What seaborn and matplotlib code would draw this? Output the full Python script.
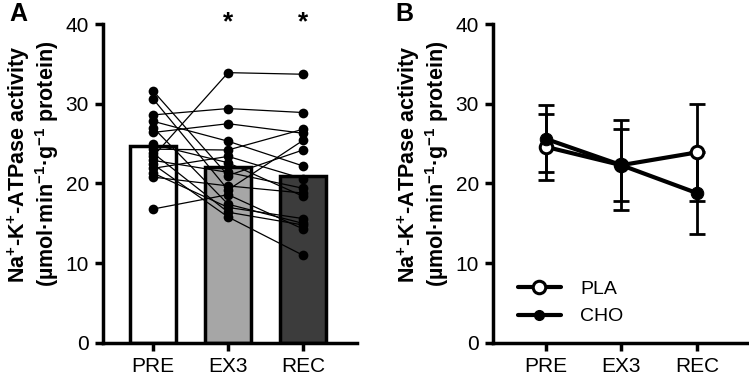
import numpy as np
import pandas as pd
import matplotlib
matplotlib.use("Agg")
import matplotlib.pyplot as plt
import seaborn as sns
from matplotlib.lines import Line2D

sns.set_style("ticks")
plt.rcParams['font.family'] = ['Liberation Sans', 'DejaVu Sans']
plt.rcParams['mathtext.fontset'] = 'custom'
plt.rcParams['mathtext.rm'] = 'Liberation Sans:bold'
plt.rcParams['mathtext.bf'] = 'Liberation Sans:bold'
plt.rcParams['mathtext.default'] = 'bf'
plt.rcParams['text.color'] = 'black'
plt.rcParams['axes.labelcolor'] = 'black'
plt.rcParams['xtick.color'] = 'black'
plt.rcParams['ytick.color'] = 'black'
plt.rcParams['axes.edgecolor'] = 'black'

# Panel A: individual subjects
times = ["PRE", "EX3", "REC"]
pre = [31.6, 30.6, 28.6, 27.8, 27.0, 26.4, 24.9, 24.3, 23.8, 23.4, 22.9, 22.4, 21.9, 21.3, 20.8, 16.8]
ex3 = [21.0, 19.2, 29.4, 25.3, 17.4, 27.5, 22.6, 24.2, 16.4, 33.9, 21.4, 15.8, 23.4, 17.0, 19.7, 18.6]
rec = [24.2, 25.4, 28.9, 22.2, 15.0, 26.3, 18.4, 26.8, 14.8, 33.7, 19.4, 11.0, 20.6, 15.6, 18.8, 14.3]
bar_colors = ["white", "#a6a6a6", "#3c3c3c"]

# Panel B: group means and SD
pla_mean = [24.6, 22.3, 23.9]
pla_sd = [4.1, 5.6, 6.1]
cho_mean = [25.6, 22.3, 18.8]
cho_sd = [4.2, 4.5, 5.1]

ylab = "Na$^{+}$-K$^{+}$-ATPase activity\n(µmol·min$^{-1}$·g$^{-1}$ protein)"

n = len(pre)
df = pd.DataFrame({
    "subject": np.tile(np.arange(n), 3),
    "time": np.repeat(times, n),
    "value": pre + ex3 + rec,
})

fig = plt.figure(figsize=(7.49, 3.84), dpi=100)
axA = fig.add_axes([0.1375, 0.1068, 0.339, 0.8307])
axB = fig.add_axes([0.658, 0.1068, 0.342, 0.8307])

# --- Panel A ---
sns.barplot(data=df, x="time", y="value", order=times, estimator="mean", errorbar=None,
            palette=bar_colors, hue="time", legend=False, width=0.62,
            edgecolor="black", linewidth=2.5, ax=axA, zorder=1)
sns.lineplot(data=df, x="time", y="value", units="subject", estimator=None,
             color="black", linewidth=0.9, ax=axA, zorder=3)
sns.stripplot(data=df, x="time", y="value", order=times, jitter=False, color="black",
              size=7, ax=axA, zorder=4)
axA.set_xlim(-0.67, 2.72)
for lbl, xi in [("*", 1), ("*", 2)]:
    axA.text(xi, 40.2, lbl, ha="center", va="center", fontsize=19, fontweight="bold",
             clip_on=False)

# --- Panel B ---
x = np.arange(len(times))
axB.errorbar(x, pla_mean, yerr=pla_sd, fmt="none", ecolor="black", elinewidth=2,
             capsize=6, capthick=2, zorder=2)
axB.errorbar(x, cho_mean, yerr=cho_sd, fmt="none", ecolor="black", elinewidth=2,
             capsize=6, capthick=2, zorder=2)
sns.lineplot(x=x, y=pla_mean, color="black", linewidth=3, marker="o", markersize=9,
             markerfacecolor="white", markeredgecolor="black", markeredgewidth=2.2,
             ax=axB, zorder=3)
sns.lineplot(x=x, y=cho_mean, color="black", linewidth=3, marker="o", markersize=9,
             markerfacecolor="black", markeredgecolor="black", ax=axB, zorder=4)
axB.set_xticks(x)
axB.set_xticklabels(times)
axB.set_xlim(-0.7, 2.69)
handles = [
    Line2D([], [], color="black", lw=3, marker="o", ms=9, mfc="white", mec="black", mew=2.2),
    Line2D([], [], color="black", lw=3, marker="o", ms=7, mfc="black", mec="black"),
]
axB.legend(handles, ["PLA", "CHO"], loc="lower left", bbox_to_anchor=(0.03, 0.0),
           frameon=False, fontsize=14, handlelength=2.2, handletextpad=1.0,
           labelspacing=0.5)

for ax in (axA, axB):
    ax.set_ylim(0, 40)
    ax.set_yticks([0, 10, 20, 30, 40])
    ax.set_xlabel("")
    ax.set_ylabel(ylab, fontsize=15.5, fontweight="bold", linespacing=1.05)
    ax.yaxis.set_label_coords(-0.165, 0.56)
    for s in ("top", "right"):
        ax.spines[s].set_visible(False)
    for s in ("left", "bottom"):
        ax.spines[s].set_linewidth(2.5)
    ax.tick_params(axis="both", width=2.5, length=6, labelsize=15, pad=4)

fig.text(0.012, 0.995, "A", fontsize=18, fontweight="bold", va="top")
fig.text(0.528, 0.995, "B", fontsize=18, fontweight="bold", va="top")

fig.savefig("out.png", dpi=100)
